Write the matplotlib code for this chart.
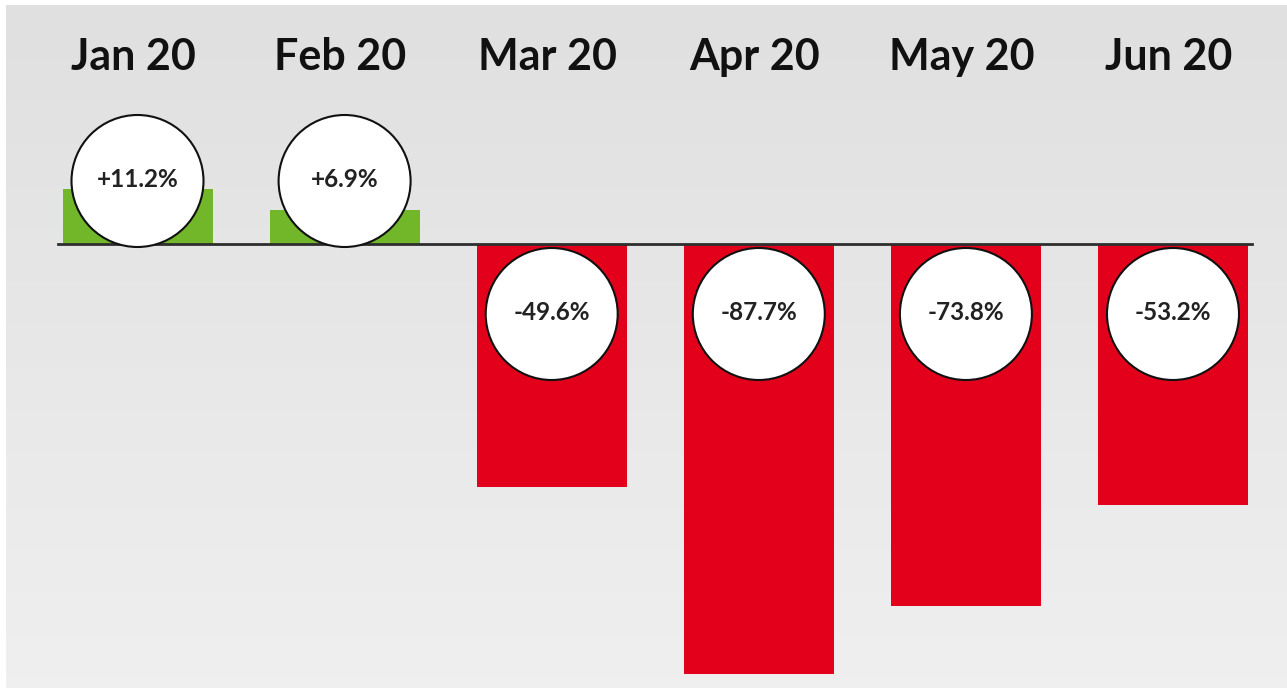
import matplotlib
matplotlib.use("Agg")
import matplotlib.pyplot as plt
import numpy as np
from matplotlib.patches import Ellipse
from matplotlib.colors import LinearSegmentedColormap

months = ["Jan 20", "Feb 20", "Mar 20", "Apr 20", "May 20", "Jun 20"]
changes = [11.2, 6.9, -49.6, -87.7, -73.8, -53.2]
labels = ["+11.2%", "+6.9%", "-49.6%", "-87.7%", "-73.8%", "-53.2%"]

GREEN = "#72b62a"
RED = "#e3001b"

W, H = 1287, 688
fig = plt.figure(figsize=(W / 100, H / 100), dpi=100, facecolor="white")
ax = fig.add_axes([6 / W, 0, 1 - 6 / W, 1 - 5 / H])

# background shading (light grey, slightly darker at the top)
bg = LinearSegmentedColormap.from_list("bg", ["#efefef", "#e0e0e0"])
ax.imshow(np.linspace(0, 1, 64).reshape(-1, 1), cmap=bg, aspect="auto",
          extent=(0, 1, 0, 1), transform=ax.transAxes, zorder=0, origin="lower")

# pixel geometry -> data scales
x0_px, step_px = 137.5 - 6, 207.1
ppu_y = 4.9                       # pixels per percent
base_px_from_top = 244 - 5
ax_w = W - 6
ax_h = H - 5

xs = list(range(len(months)))
colors = [GREEN if v >= 0 else RED for v in changes]
ax.bar(xs, changes, width=150 / step_px, color=colors, zorder=2)

ax.axhline(0, xmin=(58 - 6) / ax_w, xmax=(1252 - 6) / ax_w,
           color="#2e2e2e", lw=2.0, zorder=3)

r_px = 66
for x, v, lab, m in zip(xs, changes, labels, months):
    cy = (63 if v >= 0 else -70) / ppu_y
    e = Ellipse((x, cy), width=2 * r_px / step_px, height=2 * r_px / ppu_y,
                facecolor="white", edgecolor="#111111", lw=1.5, zorder=4)
    ax.add_patch(e)
    ax.text(x, cy + 1.5 / ppu_y, lab, ha="center", va="center", fontsize=17.5,
            fontweight="bold", family="Lato", color="#222222", zorder=5)
    ax.text(x - 4 / step_px, (base_px_from_top - 52) / ppu_y, m, ha="center",
            va="center", fontsize=31, fontweight="bold", family="Lato",
            color="#111111", zorder=5)

ax.set_xlim(-x0_px / step_px, (ax_w - x0_px) / step_px)
ax.set_ylim(-(ax_h - base_px_from_top) / ppu_y, base_px_from_top / ppu_y)
for s in ax.spines.values():
    s.set_visible(False)
ax.set_xticks([])
ax.set_yticks([])
fig.savefig("out.png", dpi=100, facecolor="white")
